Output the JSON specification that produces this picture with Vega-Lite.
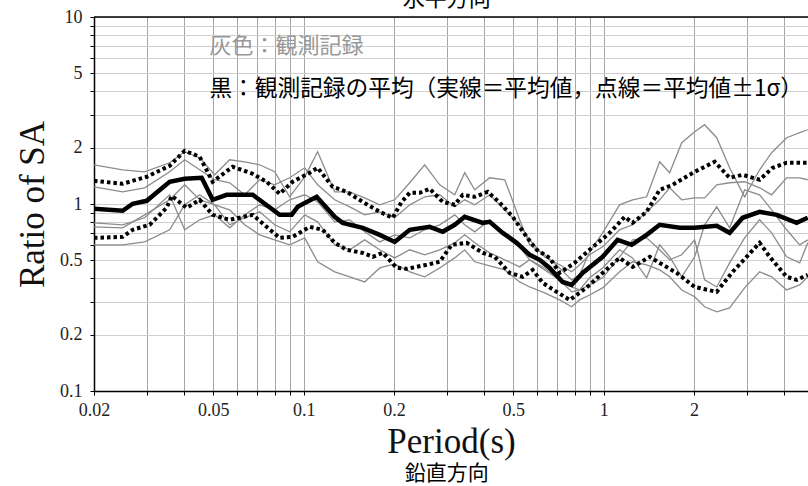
{
  "$schema": "https://vega.github.io/schema/vega-lite/v6.json",
  "autosize": "none",
  "width": 714,
  "height": 374,
  "padding": {"left": 94, "top": 17, "right": 0, "bottom": 95},
  "background": "white",
  "config": {"view": {"stroke": null}, "font": "Liberation Serif"},
  "datasets": {
    "gray": [
      {"p":0.02,"g1":1.621,"g2":1.236,"g3":0.793,"g4":0.755,"g5":0.605},
      {"p":0.02492,"g1":1.524,"g2":1.162,"g3":0.774,"g4":0.746,"g5":0.605},
      {"p":0.02951,"g1":1.487,"g2":1.221,"g3":0.844,"g4":0.875,"g5":0.627},
      {"p":0.03575,"g1":1.662,"g2":1.487,"g3":1.12,"g4":1.053,"g5":0.728},
      {"p":0.04012,"g1":1.903,"g2":1.724,"g3":0.728,"g4":1.267,"g5":0.99},
      {"p":0.04501,"g1":1.767,"g2":1.524,"g3":0.823,"g4":1.053,"g5":1.12},
      {"p":0.0505,"g1":1.433,"g2":1.348,"g3":0.875,"g4":0.99,"g5":0.99},
      {"p":0.05666,"g1":1.724,"g2":1.299,"g3":0.746,"g4":0.774,"g5":0.931},
      {"p":0.06358,"g1":1.682,"g2":1.12,"g3":0.875,"g4":0.844,"g5":0.774},
      {"p":0.07133,"g1":1.621,"g2":1.348,"g3":0.99,"g4":0.908,"g5":0.684},
      {"p":0.08003,"g1":1.487,"g2":1.267,"g3":0.931,"g4":0.774,"g5":0.643},
      {"p":0.0898,"g1":1.093,"g2":1.381,"g3":1.053,"g4":0.71,"g5":0.605},
      {"p":0.1008,"g1":1.398,"g2":1.562,"g3":1.12,"g4":0.875,"g5":0.659},
      {"p":0.1113,"g1":1.903,"g2":1.267,"g3":1.027,"g4":0.803,"g5":0.491},
      {"p":0.1269,"g1":1.162,"g2":1.053,"g3":0.803,"g4":0.605,"g5":0.434},
      {"p":0.1424,"g1":1.162,"g2":0.966,"g3":0.823,"g4":0.569,"g5":0.408},
      {"p":0.1597,"g1":1.079,"g2":0.875,"g3":0.71,"g4":0.643,"g5":0.383},
      {"p":0.1793,"g1":0.99,"g2":0.908,"g3":0.627,"g4":0.569,"g5":0.455},
      {"p":0.2011,"g1":1.053,"g2":0.844,"g3":0.684,"g4":0.515,"g5":0.478},
      {"p":0.2257,"g1":1.299,"g2":0.99,"g3":0.659,"g4":0.569,"g5":0.434},
      {"p":0.2532,"g1":1.621,"g2":1.093,"g3":0.728,"g4":0.535,"g5":0.408},
      {"p":0.2841,"g1":1.267,"g2":1.12,"g3":0.774,"g4":0.569,"g5":0.455},
      {"p":0.3188,"g1":1.12,"g2":0.966,"g3":0.875,"g4":0.62,"g5":0.515},
      {"p":0.3442,"g1":1.469,"g2":1.053,"g3":0.774,"g4":0.684,"g5":0.569},
      {"p":0.3718,"g1":1.191,"g2":0.99,"g3":0.71,"g4":0.62,"g5":0.491},
      {"p":0.4171,"g1":1.381,"g2":1.12,"g3":0.823,"g4":0.548,"g5":0.467},
      {"p":0.4681,"g1":1.348,"g2":0.931,"g3":0.684,"g4":0.503,"g5":0.444},
      {"p":0.5248,"g1":0.823,"g2":0.774,"g3":0.59,"g4":0.461,"g5":0.383},
      {"p":0.5666,"g1":0.605,"g2":0.643,"g3":0.503,"g4":0.503,"g5":0.36},
      {"p":0.6358,"g1":0.535,"g2":0.522,"g3":0.444,"g4":0.455,"g5":0.335},
      {"p":0.7134,"g1":0.455,"g2":0.473,"g3":0.393,"g4":0.393,"g5":0.307},
      {"p":0.7822,"g1":0.393,"g2":0.434,"g3":0.36,"g4":0.339,"g5":0.282},
      {"p":0.8316,"g1":0.418,"g2":0.473,"g3":0.347,"g4":0.347,"g5":0.307},
      {"p":0.898,"g1":0.555,"g2":0.535,"g3":0.403,"g4":0.369,"g5":0.326},
      {"p":0.9923,"g1":0.701,"g2":0.59,"g3":0.455,"g4":0.403,"g5":0.356},
      {"p":1.13,"g1":0.99,"g2":0.728,"g3":0.569,"g4":0.522,"g5":0.434},
      {"p":1.249,"g1":1.053,"g2":0.774,"g3":0.515,"g4":0.643,"g5":0.491},
      {"p":1.391,"g1":1.093,"g2":0.908,"g3":0.403,"g4":0.659,"g5":0.473},
      {"p":1.537,"g1":1.682,"g2":1.053,"g3":0.605,"g4":0.569,"g5":0.444},
      {"p":1.66,"g1":1.469,"g2":1.221,"g3":0.522,"g4":0.503,"g5":0.408},
      {"p":1.821,"g1":2.126,"g2":1.053,"g3":0.408,"g4":0.535,"g5":0.347},
      {"p":2.011,"g1":2.435,"g2":1.079,"g3":0.522,"g4":0.643,"g5":0.319},
      {"p":2.171,"g1":2.655,"g2":1.079,"g3":0.774,"g4":0.393,"g5":0.282},
      {"p":2.382,"g1":2.262,"g2":1.267,"g3":0.966,"g4":0.36,"g5":0.265},
      {"p":2.63,"g1":1.562,"g2":1.299,"g3":0.746,"g4":0.484,"g5":0.278},
      {"p":2.951,"g1":1.093,"g2":1.315,"g3":1.191,"g4":0.659,"g5":0.356},
      {"p":3.311,"g1":1.524,"g2":1.221,"g3":1.12,"g4":0.823,"g5":0.434},
      {"p":3.631,"g1":1.88,"g2":1.12,"g3":0.931,"g4":0.701,"g5":0.408},
      {"p":4.074,"g1":2.262,"g2":1.381,"g3":0.728,"g4":0.522,"g5":0.347},
      {"p":4.504,"g1":2.405,"g2":1.381,"g3":0.605,"g4":0.484,"g5":0.369},
      {"p":4.79,"g1":2.495,"g2":1.348,"g3":0.643,"g4":0.62,"g5":0.408}
    ],
    "mean": [
      {"p":0.02,"r":0.943},{"p":0.02492,"r":0.92},{"p":0.02692,"r":1.003},{"p":0.02997,"r":1.04},
      {"p":0.03575,"r":1.315},{"p":0.04012,"r":1.364},{"p":0.04571,"r":1.381},{"p":0.04973,"r":1.053},
      {"p":0.05537,"r":1.12},{"p":0.06761,"r":1.12},{"p":0.08316,"r":0.875},{"p":0.0912,"r":0.875},
      {"p":0.0955,"r":0.966},{"p":0.1105,"r":1.093},{"p":0.1269,"r":0.854},{"p":0.1349,"r":0.793},
      {"p":0.1573,"r":0.746},{"p":0.1793,"r":0.684},{"p":0.2011,"r":0.627},{"p":0.2257,"r":0.728},
      {"p":0.263,"r":0.755},{"p":0.2907,"r":0.71},{"p":0.3188,"r":0.774},{"p":0.3442,"r":0.854},
      {"p":0.3953,"r":0.793},{"p":0.4171,"r":0.803},{"p":0.4609,"r":0.701},{"p":0.5129,"r":0.62},
      {"p":0.5666,"r":0.535},{"p":0.612,"r":0.503},{"p":0.6607,"r":0.455},{"p":0.73,"r":0.383},
      {"p":0.7822,"r":0.369},{"p":0.8511,"r":0.428},{"p":0.9923,"r":0.522},{"p":1.113,"r":0.643},
      {"p":1.24,"r":0.605},{"p":1.391,"r":0.684},{"p":1.537,"r":0.774},{"p":1.793,"r":0.746},
      {"p":2.011,"r":0.746},{"p":2.382,"r":0.764},{"p":2.63,"r":0.701},{"p":2.907,"r":0.844},
      {"p":3.311,"r":0.908},{"p":3.774,"r":0.875},{"p":4.399,"r":0.793},{"p":4.79,"r":0.844}
    ],
    "sd": [
      {"id":"up","p":0.02,"r":1.331},{"id":"up","p":0.02492,"r":1.283},{"id":"up","p":0.02997,"r":1.398},
      {"id":"up","p":0.03575,"r":1.6},{"id":"up","p":0.04012,"r":1.927},{"id":"up","p":0.04501,"r":1.789},
      {"id":"up","p":0.04973,"r":1.315},{"id":"up","p":0.058,"r":1.582},{"id":"up","p":0.06761,"r":1.451},
      {"id":"up","p":0.07527,"r":1.315},{"id":"up","p":0.08316,"r":1.134},{"id":"up","p":0.09191,"r":1.315},
      {"id":"up","p":0.1047,"r":1.469},{"id":"up","p":0.1113,"r":1.562},{"id":"up","p":0.1249,"r":1.236},
      {"id":"up","p":0.1391,"r":1.162},{"id":"up","p":0.1573,"r":1.027},{"id":"up","p":0.1793,"r":0.908},
      {"id":"up","p":0.198,"r":0.844},{"id":"up","p":0.2122,"r":1.027},{"id":"up","p":0.2257,"r":1.148},
      {"id":"up","p":0.2437,"r":1.148},{"id":"up","p":0.263,"r":1.206},{"id":"up","p":0.2907,"r":1.027},
      {"id":"up","p":0.3188,"r":0.99},{"id":"up","p":0.339,"r":1.12},{"id":"up","p":0.3718,"r":1.093},
      {"id":"up","p":0.4108,"r":1.162},{"id":"up","p":0.4504,"r":1.015},{"id":"up","p":0.4976,"r":0.854},
      {"id":"up","p":0.5537,"r":0.667},{"id":"up","p":0.598,"r":0.569},{"id":"up","p":0.6607,"r":0.515},
      {"id":"up","p":0.7134,"r":0.428},{"id":"up","p":0.8003,"r":0.484},{"id":"up","p":0.898,"r":0.569},
      {"id":"up","p":1.047,"r":0.701},{"id":"up","p":1.175,"r":0.854},{"id":"up","p":1.249,"r":0.793},
      {"id":"up","p":1.391,"r":0.908},{"id":"up","p":1.537,"r":1.191},{"id":"up","p":1.699,"r":1.267},
      {"id":"up","p":2.011,"r":1.487},{"id":"up","p":2.345,"r":1.682},{"id":"up","p":2.63,"r":1.381},
      {"id":"up","p":2.907,"r":1.433},{"id":"up","p":3.311,"r":1.348},{"id":"up","p":3.659,"r":1.562},
      {"id":"up","p":4.074,"r":1.662},{"id":"up","p":4.79,"r":1.662},
      {"id":"lo","p":0.02,"r":0.659},{"id":"lo","p":0.02492,"r":0.667},{"id":"lo","p":0.02692,"r":0.728},
      {"id":"lo","p":0.03067,"r":0.774},{"id":"lo","p":0.03493,"r":0.954},{"id":"lo","p":0.03631,"r":1.106},
      {"id":"lo","p":0.04074,"r":0.954},{"id":"lo","p":0.04501,"r":1.053},{"id":"lo","p":0.04973,"r":0.875},
      {"id":"lo","p":0.05666,"r":0.823},{"id":"lo","p":0.06761,"r":0.875},{"id":"lo","p":0.07527,"r":0.755},
      {"id":"lo","p":0.08316,"r":0.659},{"id":"lo","p":0.09191,"r":0.667},{"id":"lo","p":0.1047,"r":0.755},
      {"id":"lo","p":0.1157,"r":0.728},{"id":"lo","p":0.1269,"r":0.62},{"id":"lo","p":0.1391,"r":0.569},
      {"id":"lo","p":0.1573,"r":0.548},{"id":"lo","p":0.1699,"r":0.522},{"id":"lo","p":0.1835,"r":0.548},
      {"id":"lo","p":0.2042,"r":0.455},{"id":"lo","p":0.2205,"r":0.45},{"id":"lo","p":0.2571,"r":0.473},
      {"id":"lo","p":0.2841,"r":0.491},{"id":"lo","p":0.3116,"r":0.605},{"id":"lo","p":0.3496,"r":0.62},
      {"id":"lo","p":0.3953,"r":0.548},{"id":"lo","p":0.4335,"r":0.522},{"id":"lo","p":0.4863,"r":0.428},
      {"id":"lo","p":0.5371,"r":0.408},{"id":"lo","p":0.5798,"r":0.444},{"id":"lo","p":0.6262,"r":0.379},
      {"id":"lo","p":0.6971,"r":0.339},{"id":"lo","p":0.7703,"r":0.307},{"id":"lo","p":0.8316,"r":0.335},
      {"id":"lo","p":0.898,"r":0.369},{"id":"lo","p":0.9923,"r":0.428},{"id":"lo","p":1.13,"r":0.515},
      {"id":"lo","p":1.249,"r":0.461},{"id":"lo","p":1.424,"r":0.522},{"id":"lo","p":1.537,"r":0.484},
      {"id":"lo","p":1.751,"r":0.428},{"id":"lo","p":2.011,"r":0.36},{"id":"lo","p":2.382,"r":0.339},
      {"id":"lo","p":2.692,"r":0.434},{"id":"lo","p":3.311,"r":0.62},{"id":"lo","p":3.577,"r":0.522},
      {"id":"lo","p":4.074,"r":0.408},{"id":"lo","p":4.399,"r":0.393},{"id":"lo","p":4.79,"r":0.418}
    ]
  },
  "layer": [
    {
      "data": {"name": "gray"},
      "transform": [{"fold": ["g1", "g2", "g3", "g4", "g5"], "as": ["id", "r"]}],
      "mark": {"type": "line", "color": "#8c8c8c", "strokeWidth": 1.3, "clip": true},
      "encoding": {
        "x": {
          "field": "p", "type": "quantitative",
          "scale": {"type": "log", "domain": [0.02, 4.8], "nice": false},
          "axis": {
            "values": [0.02,0.03,0.04,0.05,0.06,0.07,0.08,0.09,0.1,0.2,0.3,0.4,0.5,0.6,0.7,0.8,0.9,1,2,3,4],
            "grid": true, "gridColor": "#a6a6a6", "gridWidth": 1,
            "domainColor": "black", "domainWidth": 1.5,
            "tickColor": "black", "tickSize": 4,
            "labelFont": "Liberation Serif", "labelFontSize": 18, "labelColor": "#222",
            "labelPadding": 6, "labelOverlap": false, "labelFlush": false,
            "labelExpr": "indexof([0.02,0.05,0.1,0.2,0.5,1,2], datum.value) >= 0 ? format(datum.value, '~g') : ''",
            "title": "Period(s)", "titleFont": "Liberation Serif", "titleFontSize": 35,
            "titleFontWeight": "normal", "titleColor": "#111",
            "titleY": 61, "titleBaseline": "alphabetic"
          }
        },
        "y": {
          "field": "r", "type": "quantitative",
          "scale": {"type": "log", "domain": [0.1, 10], "nice": false},
          "axis": {
            "values": [0.1,0.2,0.3,0.4,0.5,0.6,0.7,0.8,0.9,1,2,3,4,5,6,7,8,9,10],
            "grid": true, "gridColor": "#cfcfcf", "gridWidth": 1,
            "domainColor": "black", "domainWidth": 1.5,
            "tickColor": "black", "tickSize": 4,
            "labelFont": "Liberation Serif", "labelFontSize": 18, "labelColor": "#222",
            "labelPadding": 8, "labelOverlap": false, "labelFlush": false,
            "labelExpr": "indexof([0.1,0.2,0.5,1,2,5,10], datum.value) >= 0 ? format(datum.value, '~g') : ''",
            "title": "Ratio of SA", "titleFont": "Liberation Serif", "titleFontSize": 35,
            "titleFontWeight": "normal", "titleColor": "#111",
            "titleX": -51, "titleY": 187, "titleAngle": -90,
            "titleAlign": "center", "titleBaseline": "alphabetic"
          }
        },
        "detail": {"field": "id"}
      }
    },
    {
      "data": {"name": "sd"},
      "mark": {"type": "line", "color": "black", "strokeWidth": 4, "strokeDash": [3.5, 3], "strokeCap": "butt", "clip": true},
      "encoding": {
        "x": {"field": "p", "type": "quantitative"},
        "y": {"field": "r", "type": "quantitative"},
        "detail": {"field": "id"}
      }
    },
    {
      "data": {"name": "mean"},
      "mark": {"type": "line", "color": "black", "strokeWidth": 4.5, "clip": true},
      "encoding": {
        "x": {"field": "p", "type": "quantitative"},
        "y": {"field": "r", "type": "quantitative"}
      }
    },
    {
      "data": {"values": [{}]},
      "mark": {"type": "rule", "color": "black", "strokeWidth": 1.5},
      "encoding": {"y": {"datum": 10}}
    },
    {
      "data": {"values": [{}]},
      "mark": {"type": "text", "align": "left", "baseline": "middle", "font": "Noto Sans CJK JP", "fontSize": 22, "color": "#999999", "text": "灰色：観測記録"},
      "encoding": {"x": {"datum": 0.0485}, "y": {"datum": 7}}
    },
    {
      "data": {"values": [{}]},
      "mark": {"type": "text", "align": "left", "baseline": "middle", "font": "Noto Sans CJK JP", "fontSize": 22.7, "color": "#000000", "text": "黒：観測記録の平均（実線＝平均値，点線＝平均値±1σ）"},
      "encoding": {"x": {"datum": 0.0485}, "y": {"datum": 4.1}}
    },
    {
      "data": {"values": [{}]},
      "mark": {"type": "text", "align": "center", "baseline": "middle", "font": "Noto Sans CJK JP", "fontSize": 22, "color": "#000000", "text": "水平方向"},
      "encoding": {"x": {"datum": 0.3}, "y": {"datum": 12.5}}
    },
    {
      "data": {"values": [{}]},
      "mark": {"type": "text", "align": "center", "baseline": "middle", "font": "Noto Sans CJK JP", "fontSize": 21, "color": "#000000", "text": "鉛直方向"},
      "encoding": {"x": {"datum": 0.3}, "y": {"datum": 0.0358}}
    }
  ]
}
